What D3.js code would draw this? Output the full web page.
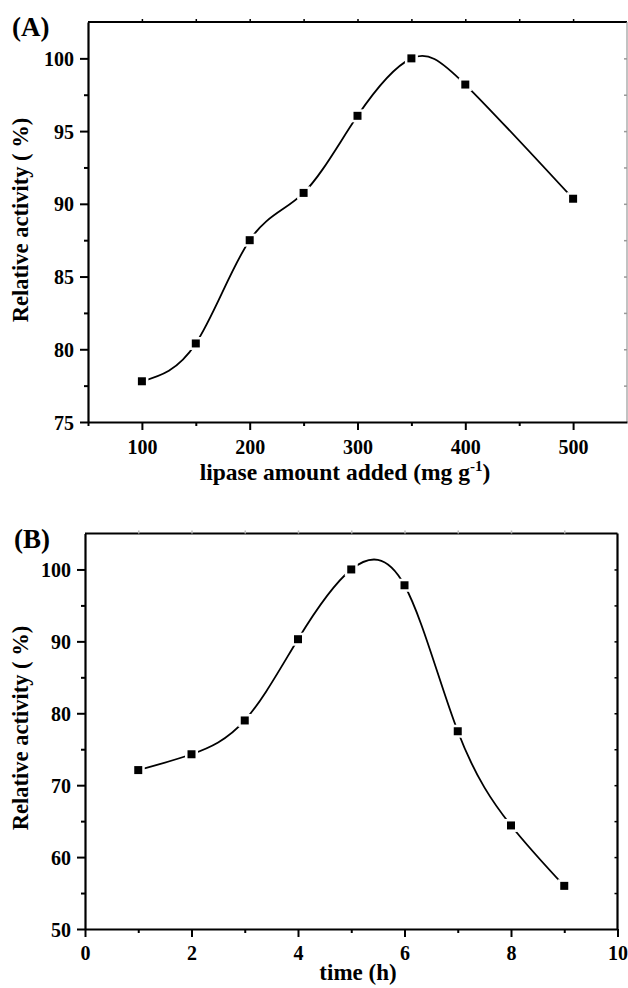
<!DOCTYPE html>
<html><head><meta charset="utf-8">
<script src="https://cdn.jsdelivr.net/npm/d3@7"></script>
<style>
html,body{margin:0;padding:0;background:#fff;}
text{font-family:"Liberation Serif","Times New Roman",serif;font-weight:bold;fill:#000;}
</style></head>
<body><svg id="chart" width="628" height="988"></svg>
<script>
// Panel A data
const lipaseAmount = [100, 150, 200, 250, 300, 350, 400, 500];
const activityA = [77.8, 80.4, 87.5, 90.75, 96.05, 100, 98.2, 90.35];
const xTicksA = [100, 200, 300, 400, 500];
const yTicksA = [75, 80, 85, 90, 95, 100];
// Panel B data
const timeH = [1, 2, 3, 4, 5, 6, 7, 8, 9];
const activityB = [72.1, 74.3, 79.0, 90.3, 100, 97.8, 77.5, 64.4, 56.0];
const xTicksB = [0, 2, 4, 6, 8, 10];
const yTicksB = [50, 60, 70, 80, 90, 100];

const svg = d3.select("#chart");

function panel(cfg) {
  const g = svg.append("g");
  const x = d3.scaleLinear().domain(cfg.xDomain).range([cfg.left, cfg.right]);
  const y = d3.scaleLinear().domain(cfg.yDomain).range([cfg.bottom, cfg.top]);

  // frame top & right
  g.append("line").attr("x1", cfg.left).attr("x2", cfg.right).attr("y1", cfg.top).attr("y2", cfg.top)
    .attr("stroke", "#000").attr("stroke-width", 2);
  g.append("line").attr("x1", cfg.right).attr("x2", cfg.right).attr("y1", cfg.top).attr("y2", cfg.bottom)
    .attr("stroke", cfg.rightColor).attr("stroke-width", cfg.rightWidth);

  // top minor ticks
  g.append("g").attr("transform", `translate(0,${cfg.top})`)
    .call(d3.axisTop(x).tickValues(cfg.xTop).tickSize(3).tickFormat(""))
    .call(a => a.select(".domain").remove())
    .selectAll("line").attr("stroke", cfg.topTickColor).attr("stroke-width", 1.5);
  // right ticks (inward)
  g.append("g").attr("transform", `translate(${cfg.right},0)`)
    .call(d3.axisRight(y).tickValues(cfg.yRight).tickSize(-3).tickFormat(""))
    .call(a => a.select(".domain").remove())
    .selectAll("line").attr("stroke", cfg.rightColor).attr("stroke-width", 1.5);

  // left axis minor
  g.append("g").attr("transform", `translate(${cfg.left},0)`)
    .call(d3.axisLeft(y).tickValues(cfg.yMinor).tickSize(4).tickFormat(""))
    .call(a => a.select(".domain").remove())
    .selectAll("line").attr("stroke-width", 2);
  // left axis major
  const ya = g.append("g").attr("transform", `translate(${cfg.left},0)`)
    .call(d3.axisLeft(y).tickValues(cfg.yTicks).tickSize(8).tickPadding(6).tickSizeOuter(0));
  ya.select(".domain").attr("stroke-width", 2.2);
  ya.selectAll("line").attr("stroke-width", 2);
  ya.selectAll("text").attr("font-size", 20).attr("font-family", null).attr("dy", "0.35em");

  // bottom axis minor
  g.append("g").attr("transform", `translate(0,${cfg.bottom})`)
    .call(d3.axisBottom(x).tickValues(cfg.xMinor).tickSize(4).tickFormat(""))
    .call(a => a.select(".domain").remove())
    .selectAll("line").attr("stroke-width", 2);
  // bottom axis major
  const xa = g.append("g").attr("transform", `translate(0,${cfg.bottom})`)
    .call(d3.axisBottom(x).tickValues(cfg.xTicks).tickSize(8).tickPadding(cfg.xPad).tickSizeOuter(0));
  xa.select(".domain").attr("stroke-width", 2.2);
  xa.selectAll("line").attr("stroke-width", 2);
  xa.selectAll("text").attr("font-size", 20).attr("font-family", null);

  // curve
  const pts = cfg.xs.map((d, i) => [d, cfg.ys[i]]);
  g.append("path").datum(pts)
    .attr("d", d3.line().x(d => x(d[0])).y(d => y(d[1])).curve(d3.curveNatural))
    .attr("fill", "none").attr("stroke", "#000").attr("stroke-width", 1.8);
  // marker halos
  g.selectAll("rect.halo").data(pts).join("rect").attr("class", "halo")
    .attr("x", d => x(d[0]) - 6.5).attr("y", d => y(d[1]) - 6.5)
    .attr("width", 13).attr("height", 13).attr("fill", "#fff");
  g.selectAll("rect.mk").data(pts).join("rect").attr("class", "mk")
    .attr("x", d => x(d[0]) - 4).attr("y", d => y(d[1]) - 4)
    .attr("width", 8).attr("height", 8).attr("fill", "#000");

  // y title
  g.append("text").attr("transform", `translate(28,${cfg.yTitleY}) rotate(-90)`)
    .attr("text-anchor", "middle").attr("font-size", 22.5).text("Relative activity ( %)");
  // panel label
  g.append("text").attr("x", cfg.labelX).attr("y", cfg.labelY).attr("font-size", 27).text(cfg.label);
  return {x, y, g};
}

const A = panel({
  xDomain: [50, 550], yDomain: [75, 102.5],
  left: 88, right: 627, top: 22, bottom: 422,
  rightColor: "#999", rightWidth: 1.2, topTickColor: "#000",
  xTicks: xTicksA, xMinor: [50, 150, 250, 350, 450],
  xTop: [100, 150, 200, 250, 300, 350, 400, 450, 500],
  yTicks: yTicksA, yMinor: [77.5, 82.5, 87.5, 92.5, 97.5],
  yRight: [77.5, 80, 82.5, 85, 87.5, 90, 92.5, 95, 97.5, 100],
  xPad: 10,
  xs: lipaseAmount, ys: activityA,
  yTitleY: 220, label: "(A)", labelX: 12, labelY: 36
});
const tA = A.g.append("text").attr("x", 345).attr("y", 480).attr("text-anchor", "middle").attr("font-size", 23.5);
tA.append("tspan").text("lipase amount added (mg g");
tA.append("tspan").attr("font-size", 15).attr("dy", -9).text("-1");
tA.append("tspan").attr("dy", 9).text(")");

const B = panel({
  xDomain: [0, 10], yDomain: [50, 105],
  left: 85, right: 617.5, top: 533.5, bottom: 929,
  rightColor: "#000", rightWidth: 2.2, topTickColor: "#bbb",
  xTicks: xTicksB, xMinor: [1, 3, 5, 7, 9],
  xTop: [1, 2, 3, 4, 5, 6, 7, 8, 9],
  yTicks: yTicksB, yMinor: [55, 65, 75, 85, 95],
  yRight: [55, 60, 65, 70, 75, 80, 85, 90, 95, 100],
  xPad: 9,
  xs: timeH, ys: activityB,
  yTitleY: 728, label: "(B)", labelX: 14, labelY: 548
});
B.g.append("text").attr("x", 358).attr("y", 980).attr("text-anchor", "middle").attr("font-size", 23).text("time (h)");
</script></body></html>
